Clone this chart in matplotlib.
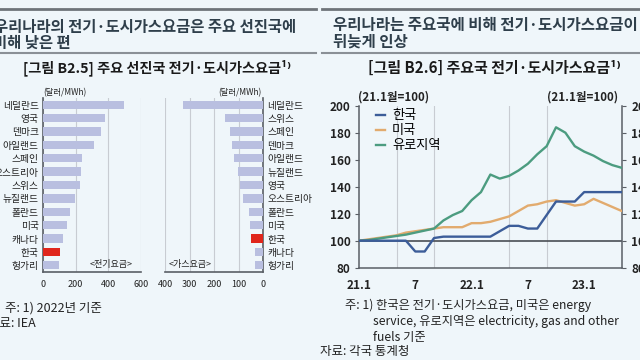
import matplotlib
matplotlib.use("Agg")
import matplotlib.pyplot as plt
import numpy as np

plt.rcParams['font.family'] = ['Noto Sans CJK KR', 'DejaVu Sans']
# ==============================================================================
# left figure : prices by country (USD/MWh, 2022)
elec_countries = ['네덜란드', '영국', '덴마크', '아일랜드', '스페인', '오스트리아',
                  '스위스', '뉴질랜드', '폴란드', '미국', '캐나다', '한국', '헝가리']
elec_values = [494, 378, 353, 310, 237, 233, 227, 198, 167, 147, 120, 102, 100]

gas_countries = ['네덜란드', '스위스', '스페인', '덴마크', '아일랜드', '뉴질랜드',
                 '영국', '오스트리아', '폴란드', '미국', '한국', '캐나다', '헝가리']
gas_values = [327, 154, 133, 127, 120, 101, 95, 80, 57, 54, 50, 34, 31]

# right figure : index (21.1 = 100), monthly 21.1 .. 23.5
months = ['21.1', '2', '3', '4', '5', '6', '7', '8', '9', '10', '11', '12',
          '22.1', '2', '3', '4', '5', '6', '7', '8', '9', '10', '11', '12',
          '23.1', '2', '3', '4', '5']
korea = [100, 100, 100, 100, 100, 100, 92, 92, 102, 103, 103, 103,
         103, 103, 103, 107, 111, 111, 109, 109, 119, 129, 129, 129,
         136, 136, 136, 136, 136]
usa = [100, 101, 102, 103, 104, 106, 107, 108, 109, 110, 110, 110,
       113, 113, 114, 116, 118, 122, 126, 127, 129, 130, 128, 126,
       127, 131, 128, 125, 122]
euro = [100, 100.5, 101.5, 102.5, 103.5, 104.5, 106, 107.5, 109, 115, 119, 122,
        130, 136, 149, 146, 148, 152, 157, 164, 170, 184, 180, 170,
        166, 163, 159, 156, 154]
# ==============================================================================
bg = "#eff6fa"
bar_color = "#b9bfe0"
red = "#e0261c"
spine_color = "#5a5f66"
grid_color = "#c8ccd2"
head_color = "#2f3f4b"
txt = "#222222"

fig = plt.figure(figsize=(6.4, 3.6), dpi=100, facecolor=bg)

def px(x, y):
    return x / 640.0, 1 - y / 360.0

# header rules and texts
for x0, x1 in [(0, 316), (322, 640)]:
    fig.add_artist(plt.Line2D([x0 / 640, x1 / 640], [1 - 9 / 360] * 2,
                              color="#6e747a", lw=2))
    fig.add_artist(plt.Line2D([x0 / 640, x1 / 640], [1 - 53 / 360] * 2,
                              color="#8a9096", lw=1.5))

fig.text(*px(-6, 27), "우리나라의 전기·도시가스요금은 주요 선진국에", fontsize=11.1,
         weight="bold", color=head_color, va="center")
fig.text(*px(-7, 43), "비해 낮은 편", fontsize=11.1, weight="bold",
         color=head_color, va="center")
fig.text(*px(333, 25), "우리나라는 주요국에 비해 전기·도시가스요금이", fontsize=11.2,
         weight="bold", color=head_color, va="center")
fig.text(*px(333, 42), "뒤늦게 인상", fontsize=11.2, weight="bold",
         color=head_color, va="center")

fig.text(*px(157, 68), "[그림 B2.5] 주요 선진국 전기·도시가스요금¹⁾", fontsize=10.2,
         weight="bold", color="#1a1a1a", va="center", ha="center")
fig.text(*px(494, 68), "[그림 B2.6] 주요국 전기·도시가스요금¹⁾", fontsize=10.8,
         weight="bold", color="#1a1a1a", va="center", ha="center")
# ==============================================================================
ypos = np.arange(len(elec_countries))

ax_e = fig.add_axes([43 / 640, 1 - 272 / 360, 98 / 640, 174 / 360])
ax_g = fig.add_axes([165 / 640, 1 - 272 / 360, 98 / 640, 174 / 360])

for ax, names, vals in [(ax_e, elec_countries, elec_values),
                        (ax_g, gas_countries, gas_values)]:
    ax.set_facecolor(bg)
    colors = [red if n == '한국' else bar_color for n in names]
    ax.barh(ypos, vals, height=0.62, color=colors, zorder=3)
    ax.set_ylim(len(names) - 0.5, -0.5)
    ax.set_yticks(ypos)
    ax.set_yticklabels(names, fontsize=7, color=txt)
    ax.tick_params(axis="y", length=0, pad=3)
    ax.tick_params(axis="x", length=0, labelsize=6.5, pad=6, colors=txt)
    ax.grid(axis="x", color=grid_color, lw=0.8, zorder=0)
    for s in ax.spines.values():
        s.set_visible(False)
    ax.spines["bottom"].set_visible(True)
    ax.spines["bottom"].set_color(spine_color)
    ax.spines["bottom"].set_linewidth(1.2)

ax_e.set_xlim(0, 600)
ax_e.set_xticks([0, 200, 400, 600])
ax_e.spines["left"].set_visible(True)
ax_e.spines["left"].set_color(spine_color)
ax_e.spines["left"].set_linewidth(1.2)

ax_g.set_xlim(400, 0)
ax_g.set_xticks([400, 300, 200, 100, 0])
ax_g.yaxis.tick_right()
ax_g.spines["right"].set_visible(True)
ax_g.spines["right"].set_color(spine_color)
ax_g.spines["right"].set_linewidth(1.2)

fig.text(*px(65, 93), "(달러/MWh)", fontsize=6, ha="center", va="center",
         color=txt)
fig.text(*px(240, 93), "(달러/MWh)", fontsize=6, ha="center", va="center",
         color=txt)
fig.text(*px(111, 265), "<전기요금>", fontsize=6.5, ha="center", va="center",
         color=txt)
fig.text(*px(190, 265), "<가스요금>", fontsize=6.5, ha="center", va="center",
         color=txt)

fig.text(*px(5, 308), "주: 1) 2022년 기준", fontsize=9, va="center", color=txt)
fig.text(*px(-12, 323), "자료: IEA", fontsize=9, va="center", color=txt)
# ==============================================================================
ax = fig.add_axes([359 / 640, 1 - 267.7 / 360, 262.7 / 640, 162 / 360])
ax.set_facecolor(bg)
x = np.arange(len(months))

ax.plot(x, korea, color="#3c5d99", lw=1.7, label="한국", zorder=4)
ax.plot(x, usa, color="#e2ab6e", lw=1.7, label="미국", zorder=3)
ax.plot(x, euro, color="#4c9c80", lw=1.7, label="유로지역", zorder=3)
ax.axhline(100, color="#4a4f55", lw=1.2, zorder=2)

ax.set_xlim(0, len(months) - 1)
ax.set_ylim(80, 200)
ax.set_yticks(np.arange(80, 201, 20))
ax.set_xticks([0, 6, 12, 18, 24])
ax.set_xticklabels([months[i] for i in [0, 6, 12, 18, 24]])
ax.set_xticks(np.arange(4, 28, 4), minor=True)
ax.grid(axis="x", which="minor", color=grid_color, lw=0.8, zorder=0)
ax.tick_params(axis="x", which="both", length=0, pad=8)
ax.tick_params(axis="y", length=3, color=spine_color, pad=3)
for lab in ax.get_xticklabels() + ax.get_yticklabels():
    lab.set_fontsize(8.5)
    lab.set_fontweight("bold")
    lab.set_color(txt)
ax.spines["top"].set_visible(False)
for side in ["left", "bottom", "right"]:
    ax.spines[side].set_color(spine_color)
    ax.spines[side].set_linewidth(1.1)

ax2 = ax.twinx()
ax2.set_ylim(80, 200)
ax2.set_yticks(np.arange(80, 201, 20))
ax2.tick_params(axis="y", length=3, color=spine_color, pad=4)
for lab in ax2.get_yticklabels():
    lab.set_fontsize(8.5)
    lab.set_fontweight("bold")
    lab.set_color(txt)
for s in ax2.spines.values():
    s.set_visible(False)

leg = ax.legend(loc="upper left", bbox_to_anchor=(0.02, 1.05), frameon=False,
                handlelength=0.7, handletextpad=0.5, labelspacing=0.15,
                prop={"size": 9.5})

fig.text(*px(358, 97), "(21.1월=100)", fontsize=8.3, weight="bold",
         va="center", color=txt)
fig.text(*px(618, 97), "(21.1월=100)", fontsize=8.3, weight="bold",
         va="center", ha="right", color=txt)

fig.text(*px(345, 305), "주: 1) 한국은 전기·도시가스요금, 미국은 energy",
         fontsize=8.8, va="center", color=txt)
fig.text(*px(373, 321), "service, 유로지역은 electricity, gas and other",
         fontsize=8.8, va="center", color=txt)
fig.text(*px(373, 337), "fuels 기준", fontsize=8.8, va="center", color=txt)
fig.text(*px(320, 352), "자료: 각국 통계청", fontsize=9, va="center", color=txt)

plt.savefig("out.png", dpi=100, facecolor=bg)
